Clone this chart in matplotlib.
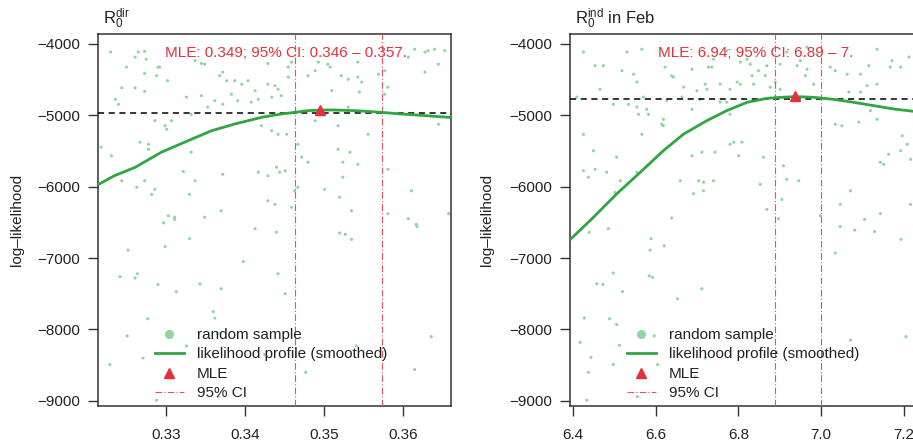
import numpy as np
import matplotlib
matplotlib.use("Agg")
import matplotlib.pyplot as plt
from matplotlib.lines import Line2D

plt.rcParams['font.family'] = ['Liberation Sans', 'DejaVu Sans']
plt.rcParams['mathtext.fontset'] = 'custom'
plt.rcParams['mathtext.rm'] = 'Liberation Sans'
plt.rcParams['mathtext.it'] = 'Liberation Sans:italic'
plt.rcParams['mathtext.bf'] = 'Liberation Sans:bold'

# ---------------- Panel 1: R0 dir ----------------
dir_sample_x = [0.3230, 0.3261, 0.3265, 0.3273, 0.3275, 0.3250, 0.3273, 0.3290, 0.3292, 0.3288,
                0.3302, 0.3244, 0.3261, 0.3273, 0.3236, 0.3240, 0.3326, 0.3345, 0.3332, 0.3337,
                0.3345, 0.3349, 0.3368, 0.3372, 0.3377, 0.3387, 0.3383, 0.3396, 0.3404, 0.3413,
                0.3417, 0.3408, 0.3353, 0.3362, 0.3372, 0.3391, 0.3429, 0.3438, 0.3442, 0.3434,
                0.3446, 0.3455, 0.3459, 0.3429, 0.3455, 0.3480, 0.3489, 0.3493, 0.3505, 0.3508,
                0.3510, 0.3522, 0.3531, 0.3543, 0.3548, 0.3545, 0.3531, 0.3543, 0.3569, 0.3577,
                0.3581, 0.3577, 0.3607, 0.3615, 0.3628, 0.3632, 0.3640, 0.3653, 0.3645, 0.3628,
                0.3645, 0.3489, 0.3518, 0.3556, 0.3518, 0.3533, 0.3524, 0.3543, 0.3581, 0.3467,
                0.3472, 0.3480, 0.3440, 0.3444, 0.3451, 0.3429, 0.3417, 0.3372, 0.3337, 0.3322,
                0.3332, 0.3299, 0.3307, 0.3286, 0.3301, 0.3267, 0.3278, 0.3278, 0.3231, 0.3218,
                0.3263, 0.3273, 0.3286, 0.3282, 0.3244, 0.3330, 0.3349, 0.3311, 0.3370, 0.3429,
                0.3438, 0.3459, 0.3463, 0.3467, 0.3501, 0.3524, 0.3520, 0.3535, 0.3581, 0.3611,
                0.3658, 0.3607, 0.3421, 0.3442, 0.3434, 0.3453, 0.3303,
                0.3297, 0.3311, 0.3413, 0.3440, 0.3520, 0.3527, 0.3535, 0.3617, 0.3618, 0.3252,
                0.3299, 0.3330, 0.3398, 0.3242, 0.3261, 0.3264, 0.3290, 0.3313, 0.3343, 0.3370,
                0.3442, 0.3451, 0.3360, 0.3362, 0.3277, 0.3251, 0.3366, 0.3326, 0.3271, 0.3229,
                0.3288, 0.3366, 0.3477, 0.3615, 0.3636, 0.3541, 0.3425]
dir_sample_y = [-4120, -4190, -4120, -4110, -4220, -4330, -4420, -4330, -4330, -4450,
                -4520, -4620, -4620, -4670, -4780, -4850, -4750, -4730, -4990, -4240,
                -4280, -4290, -4450, -4400, -4520, -4520, -4710, -4570, -4520, -4660,
                -4780, -4820, -4890, -4800, -4850, -4800, -4570, -4590, -4640, -4750,
                -4730, -4330, -4260, -4280, -4470, -4450, -4380, -4260, -4290, -4330,
                -4660, -4450, -4500, -4260, -4540, -4680, -4890, -4470, -4430, -4380,
                -4610, -4710, -4190, -4080, -4120, -4100, -4080, -4100, -4290, -4400,
                -5130, -5080, -5150, -5270, -5480, -5520, -5660, -5690, -5760, -5410,
                -5590, -5660, -5730, -5800, -5780, -5850, -5800, -5830, -5920, -5790,
                -5520, -5150, -5080, -5080, -5200, -5380, -5410, -5480, -5570, -5450,
                -6010, -5920, -6040, -6110, -5920, -6110, -6430, -6430, -6340, -6200,
                -6250, -6290, -6060, -6010, -6040, -5870, -6150, -6340, -6380, -6060,
                -6380, -6450, -5150, -5270, -5220, -5270, -6410,
                -6510, -6460, -6590, -6640, -6650, -6670, -6740, -6530, -6560, -6890,
                -6840, -6730, -7050, -7260, -7280, -7220, -7370, -7470, -7360, -7430,
                -7220, -7500, -7750, -7840, -7850, -8090, -8050, -8230, -8400, -8490,
                -8990, -8940, -8600, -8560, -8100, -8230, -8350]

dir_profile_x = [0.3214, 0.3235, 0.3261, 0.3294, 0.3328, 0.3358, 0.3387, 0.3421, 0.3446, 0.3463,
                 0.3480, 0.3497, 0.3514, 0.3539, 0.3560, 0.3573, 0.3598, 0.3624, 0.3661]
dir_profile_y = [-5975, -5848, -5732, -5522, -5359, -5219, -5126, -5033, -4986, -4963,
                 -4939, -4930, -4930, -4939, -4953, -4963, -4986, -5005, -5035]

dir_mle = (0.3495, -4930)
dir_ci = [0.3464, 0.3573]
dir_hline = -4965
dir_text = "MLE: 0.349; 95% CI: 0.346 \u2013 0.357."
dir_xticks = [0.33, 0.34, 0.35, 0.36]
dir_xlim = (0.3214, 0.3661)

# ---------------- Panel 2: R0 ind in Feb ----------------
ind_sample_x = [6.426, 6.454, 6.466, 6.531, 6.567, 6.547, 6.555, 6.519, 6.535, 6.559,
                6.579, 6.583, 6.571, 6.619, 6.615, 6.619, 6.567, 6.426, 6.450, 6.454,
                6.482, 6.506, 6.426, 6.438, 6.515, 6.502, 6.555, 6.660, 6.704, 6.716,
                6.716, 6.740, 6.692, 6.623, 6.639, 6.643, 6.668, 6.700, 6.664, 6.627,
                6.728, 6.736, 6.740, 6.772, 6.805, 6.821, 6.833, 6.829, 6.797, 6.780,
                6.756, 6.780, 6.724, 6.708, 6.688, 6.720, 6.772, 6.869, 6.865, 6.877,
                6.889, 6.901, 6.942, 6.950, 6.962, 6.966, 6.982, 7.022, 6.990, 6.966,
                6.917, 6.901, 7.034, 7.063, 7.095, 7.115, 7.111, 7.135, 7.167, 7.171,
                7.212, 7.192, 7.095, 7.135, 7.067, 6.789, 6.809, 6.780, 6.712, 6.744,
                6.688, 6.801, 6.861, 6.909, 6.917, 6.946, 6.853, 6.869, 6.897, 6.998,
                7.046, 7.071, 7.143, 7.151, 7.163, 7.192, 7.208, 7.216, 7.196, 7.034,
                7.050, 7.091, 7.135, 7.119, 6.905, 7.216, 7.143, 6.639, 6.555, 6.498,
                6.410, 6.474, 6.805, 6.837, 6.849, 6.756, 6.688,
                6.440, 6.486, 6.589, 6.587, 6.621, 6.498, 6.458, 6.473, 6.585, 6.593,
                6.520, 6.653, 6.712, 6.428, 6.489, 6.506, 6.418, 6.513, 6.597, 6.444,
                6.498, 6.605, 6.438, 6.434, 6.556, 6.720, 6.696, 7.046, 7.081, 7.129,
                7.105, 7.193, 7.034, 7.071, 7.205]
ind_sample_y = [-4120, -4310, -4640, -4120, -4080, -4430, -4540, -4380, -4850, -4990,
                -4920, -4990, -4750, -5060, -5130, -5150, -5270, -5270, -5500, -5760,
                -5800, -5590, -5780, -5870, -5920, -6080, -5800, -5920, -5920, -5940,
                -6060, -5920, -6100, -4330, -4450, -4470, -4610, -4660, -4750, -4800,
                -4330, -4330, -4220, -4100, -4260, -4220, -4450, -4290, -4540, -4640,
                -4820, -4990, -4640, -4780, -4920, -4570, -4820, -4310, -4450, -4610,
                -4540, -4640, -4310, -4240, -4450, -4360, -4570, -4330, -4150, -4050,
                -4120, -4290, -4380, -4430, -4430, -4310, -4590, -4570, -4330, -4240,
                -4190, -4330, -4680, -4080, -4680, -5380, -5380, -5410, -5520, -5520,
                -5570, -5570, -5590, -5710, -5900, -5920, -5970, -6320, -6450, -6410,
                -6250, -6060, -5660, -5690, -5550, -5500, -5410, -5620, -5290, -5130,
                -5150, -5100, -5060, -4940, -6180, -6250, -6380, -6440, -4890, -4850,
                -4750, -4310, -4570, -4570, -4380, -4570, -4360,
                -6640, -6590, -6730, -6890, -6830, -7210, -7360, -7370, -7250, -7270,
                -7470, -7570, -7430, -7840, -7850, -7930, -8180, -8220, -8090, -8390,
                -8490, -8490, -8600, -8990, -8940, -8400, -8660, -6560, -6610, -6630,
                -6460, -6740, -6930, -8150, -8100]

ind_profile_x = [6.3936, 6.446, 6.506, 6.563, 6.619, 6.668, 6.724, 6.772, 6.821, 6.869,
                 6.901, 6.942, 6.982, 7.030, 7.079, 7.127, 7.175, 7.224, 7.250]
ind_profile_y = [-6744, -6454, -6105, -5802, -5499, -5266, -5079, -4939, -4823, -4767,
                 -4753, -4743, -4753, -4781, -4823, -4869, -4916, -4949, -4960]

ind_mle = (6.938, -4735)
ind_ci = [6.889, 7.000]
ind_hline = -4770
ind_text = "MLE: 6.94; 95% CI: 6.89 \u2013 7."
ind_xticks = [6.4, 6.6, 6.8, 7.0, 7.2]
ind_xlim = (6.3935, 7.246)

yticks = [-4000, -5000, -6000, -7000, -8000, -9000]
ylim = (-9070, -3867)

legend_labels = ["random sample", "likelihood profile (smoothed)", "MLE", "95% CI"]

# ---------------- styles ----------------
W, H = 913, 443
fig = plt.figure(figsize=(W / 100, H / 100), dpi=100)
fig.patch.set_facecolor('white')

pt_col = '#8fd69f'
line_col = '#2fa63f'
red = '#e3323a'
ci_col = '#e05560'
dark = '#333333'

def setup(ax, title, xticks, xlim, fmt, xs, ys, px, py, mle, ci, hline, text, text_x, ylab_x):
    ax.set_xlim(*xlim)
    ax.set_ylim(*ylim)
    ax.scatter(xs, ys, s=5, color=pt_col, edgecolors='none', zorder=2)
    ax.axhline(hline, color='black', lw=1.1, ls=(0, (4, 3)), zorder=3)
    for c in ci:
        ax.axvline(c, color=ci_col, lw=0.8, ls=(0, (6, 2, 1, 2)), zorder=3)
    ax.plot(px, py, color=line_col, lw=2.0, zorder=4, solid_capstyle='butt')
    ax.plot([mle[0]], [mle[1]], marker='^', color=red, ms=7, ls='none', zorder=5)
    ax.text(text_x, 0.949, text, transform=ax.transAxes, color=red, fontsize=11,
            ha='center', va='center', zorder=6)
    ax.text(0.015, 1.008, title, transform=ax.transAxes, fontsize=12, ha='left',
            va='bottom', color='#222222')
    ax.set_yticks(yticks)
    ax.set_yticklabels([str(v).replace('-', '\u2212') for v in yticks])
    ax.set_xticks(xticks)
    ax.set_xticklabels([fmt.format(v) for v in xticks])
    ax.tick_params(axis='both', which='major', labelsize=11, length=7, width=1.0,
                   color=dark, labelcolor='#222222', direction='out')
    ax.tick_params(axis='y', pad=6)
    ax.tick_params(axis='x', pad=8.5)
    for s in ax.spines.values():
        s.set_color(dark)
        s.set_linewidth(1.1)
    ax.set_ylabel('log\u2013likelihood', fontsize=11, color='#222222')
    ax.yaxis.set_label_coords(ylab_x, 0.5)

    handles = [
        Line2D([], [], marker='o', ls='none', color=pt_col, ms=5.5),
        Line2D([], [], color=line_col, lw=2.0),
        Line2D([], [], marker='^', ls='none', color=red, ms=7),
        Line2D([], [], color=ci_col, lw=0.8, ls=(0, (6, 2, 1, 2))),
    ]
    leg = ax.legend(handles, legend_labels, loc='lower left', bbox_to_anchor=(0.161, 0.015),
                    frameon=False, fontsize=11, handlelength=1.9, handletextpad=0.85,
                    labelspacing=0.36, borderaxespad=0.0, borderpad=0.0)
    for t in leg.get_texts():
        t.set_color('#222222')

ax1 = fig.add_axes([98 / W, 1 - 406 / H, 353 / W, 372 / H])
setup(ax1, r'$\mathrm{R}_0^{\mathrm{dir}}$', dir_xticks, dir_xlim, '{:.2f}',
      dir_sample_x, dir_sample_y, dir_profile_x, dir_profile_y,
      dir_mle, dir_ci, dir_hline, dir_text, 0.532, -0.21)

ax2 = fig.add_axes([570 / W, 1 - 406 / H, 353 / W, 372 / H])
setup(ax2, r'$\mathrm{R}_0^{\mathrm{ind}}$ in Feb', ind_xticks, ind_xlim, '{:.1f}',
      ind_sample_x, ind_sample_y, ind_profile_x, ind_profile_y,
      ind_mle, ind_ci, ind_hline, ind_text, 0.527, -0.215)

fig.savefig('out.png', dpi=100)
